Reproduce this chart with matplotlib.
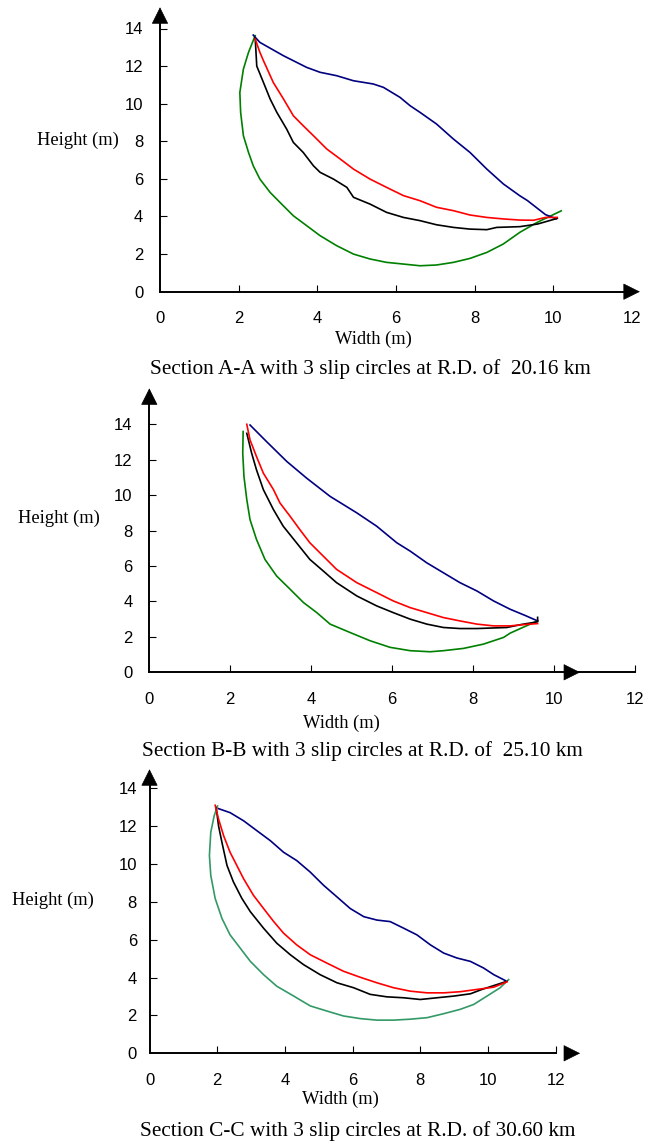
import matplotlib
matplotlib.use('Agg')
import matplotlib.pyplot as plt

# Section A-A
a_blue_x = [2.37, 2.54, 3.14, 3.73, 4.07, 4.49, 4.92, 5.42, 5.68, 6.10, 6.36, 6.61, 7.03, 7.46, 7.88, 8.31, 8.73, 9.15, 9.34, 9.80, 10.07]
a_blue_y = [13.65, 13.26, 12.55, 11.93, 11.67, 11.49, 11.22, 11.05, 10.87, 10.34, 9.89, 9.54, 8.92, 8.12, 7.41, 6.52, 5.73, 5.10, 4.85, 4.10, 3.88]
a_red_x = [2.42, 2.54, 2.63, 2.88, 3.14, 3.39, 3.64, 3.90, 4.24, 4.58, 4.92, 5.34, 5.76, 6.19, 6.61, 7.03, 7.46, 7.88, 8.31, 8.73, 9.15, 9.50, 9.80, 10.10]
a_red_y = [13.44, 12.73, 12.29, 11.13, 10.25, 9.36, 8.83, 8.30, 7.59, 7.06, 6.52, 5.99, 5.55, 5.11, 4.84, 4.49, 4.31, 4.08, 3.95, 3.87, 3.81, 3.80, 3.95, 3.95]
a_black_x = [2.42, 2.46, 2.63, 2.80, 2.97, 3.22, 3.39, 3.64, 3.90, 4.07, 4.41, 4.75, 4.92, 5.34, 5.76, 6.19, 6.61, 7.03, 7.46, 7.88, 8.31, 8.56, 9.15, 9.60, 10.10]
a_black_y = [13.50, 12.00, 11.13, 10.25, 9.54, 8.65, 7.94, 7.41, 6.70, 6.35, 5.99, 5.55, 5.02, 4.66, 4.22, 3.95, 3.78, 3.56, 3.42, 3.33, 3.30, 3.42, 3.46, 3.60, 3.90]
a_green_x = [2.42, 2.25, 2.12, 2.03, 2.05, 2.12, 2.25, 2.37, 2.54, 2.80, 3.05, 3.39, 3.73, 4.07, 4.49, 4.92, 5.34, 5.76, 6.19, 6.61, 7.03, 7.46, 7.88, 8.31, 8.73, 9.15, 9.60, 10.20]
a_green_y = [13.62, 12.73, 11.84, 10.60, 9.54, 8.30, 7.41, 6.70, 5.99, 5.28, 4.75, 4.04, 3.51, 2.98, 2.45, 2.00, 1.74, 1.56, 1.47, 1.38, 1.42, 1.56, 1.77, 2.09, 2.54, 3.16, 3.70, 4.30]

# Section B-B
b_blue_x = [2.49, 2.90, 3.40, 3.89, 4.47, 5.13, 5.62, 6.12, 6.45, 6.86, 7.27, 7.68, 8.10, 8.51, 8.92, 9.30, 9.60]
b_blue_y = [13.96, 13.02, 11.90, 10.96, 9.93, 9.00, 8.25, 7.31, 6.84, 6.18, 5.62, 5.06, 4.59, 4.03, 3.56, 3.20, 2.90]
b_red_x = [2.41, 2.49, 2.65, 2.82, 3.07, 3.23, 3.48, 3.72, 3.97, 4.30, 4.63, 5.13, 5.62, 6.03, 6.45, 6.86, 7.27, 7.68, 8.10, 8.51, 8.92, 9.30, 9.60]
b_red_y = [14.00, 13.12, 12.18, 11.24, 10.31, 9.56, 8.81, 8.06, 7.31, 6.56, 5.81, 5.06, 4.50, 4.03, 3.65, 3.37, 3.09, 2.90, 2.72, 2.62, 2.62, 2.70, 2.75]
b_black_x = [2.41, 2.53, 2.65, 2.82, 3.07, 3.31, 3.64, 3.97, 4.30, 4.63, 5.13, 5.62, 6.03, 6.45, 6.86, 7.27, 7.68, 8.10, 8.84, 9.20, 9.60, 9.60]
b_black_y = [13.49, 12.37, 11.43, 10.31, 9.18, 8.25, 7.31, 6.37, 5.72, 5.06, 4.31, 3.75, 3.37, 3.00, 2.72, 2.53, 2.47, 2.47, 2.53, 2.70, 2.85, 3.10]
b_green_x = [2.32, 2.31, 2.34, 2.41, 2.49, 2.65, 2.86, 3.15, 3.48, 3.81, 4.14, 4.47, 4.96, 5.46, 5.95, 6.45, 6.94, 7.27, 7.77, 8.26, 8.76, 8.92, 9.30, 9.60]
b_green_y = [13.59, 12.37, 11.06, 9.75, 8.62, 7.50, 6.37, 5.43, 4.69, 3.94, 3.37, 2.72, 2.25, 1.78, 1.41, 1.22, 1.16, 1.22, 1.35, 1.59, 1.97, 2.21, 2.60, 2.90]

# Section C-C
c_blue_x = [2.04, 2.38, 2.78, 3.17, 3.57, 3.96, 4.35, 4.75, 5.14, 5.54, 5.93, 6.33, 6.72, 7.11, 7.51, 7.90, 8.30, 8.69, 9.08, 9.48, 9.87, 10.17, 10.51]
c_blue_y = [12.91, 12.70, 12.27, 11.75, 11.22, 10.61, 10.17, 9.56, 8.87, 8.25, 7.64, 7.21, 7.03, 6.95, 6.60, 6.25, 5.72, 5.29, 5.03, 4.85, 4.50, 4.15, 3.84]
c_red_x = [1.94, 2.04, 2.19, 2.38, 2.58, 2.78, 3.07, 3.37, 3.67, 3.96, 4.35, 4.75, 5.24, 5.73, 6.23, 6.72, 7.21, 7.70, 8.20, 8.69, 9.18, 9.67, 10.17, 10.56]
c_red_y = [13.09, 12.36, 11.48, 10.61, 9.91, 9.21, 8.34, 7.64, 6.95, 6.34, 5.72, 5.20, 4.76, 4.33, 4.01, 3.72, 3.46, 3.28, 3.19, 3.19, 3.25, 3.37, 3.49, 3.77]
c_black_x = [1.97, 2.04, 2.14, 2.29, 2.48, 2.73, 2.98, 3.37, 3.76, 4.16, 4.55, 5.04, 5.54, 6.03, 6.52, 7.01, 7.51, 8.00, 8.49, 8.99, 9.48, 9.82, 10.56]
c_black_y = [12.97, 12.00, 11.13, 9.91, 9.04, 8.17, 7.47, 6.60, 5.81, 5.20, 4.68, 4.15, 3.72, 3.46, 3.11, 2.98, 2.93, 2.84, 2.93, 3.02, 3.14, 3.37, 3.80]
c_green_x = [2.01, 1.91, 1.81, 1.77, 1.81, 1.94, 2.14, 2.38, 2.68, 2.98, 3.37, 3.76, 4.26, 4.75, 5.24, 5.73, 6.23, 6.72, 7.21, 7.70, 8.20, 8.69, 9.18, 9.58, 9.97, 10.36, 10.61]
c_green_y = [13.05, 12.53, 11.66, 10.44, 9.39, 8.17, 7.12, 6.25, 5.55, 4.85, 4.15, 3.54, 3.02, 2.50, 2.23, 1.97, 1.83, 1.75, 1.75, 1.80, 1.88, 2.09, 2.32, 2.58, 3.02, 3.46, 3.89]

titles = ['Section A-A with 3 slip circles at R.D. of  20.16 km',
          'Section B-B with 3 slip circles at R.D. of  25.10 km',
          'Section C-C with 3 slip circles at R.D. of 30.60 km']
x_ticks = [0, 2, 4, 6, 8, 10, 12]
y_ticks = [0, 2, 4, 6, 8, 10, 12, 14]

W, H = 647, 1143
fig = plt.figure(figsize=(W / 100, H / 100), dpi=100)

sans = 'Liberation Sans'
serif = 'Liberation Serif'

# pixel layout of each panel: left, right, y of zero line, y of 14
panels = [
    dict(box=(160, 632, 291.7, 28.5), curves=(a_blue_x, a_blue_y, a_red_x, a_red_y, a_black_x, a_black_y, a_green_x, a_green_y),
         green='#008000', ytip=15.13, xarrow=(11.8, 12.2), hide12=True,
         hlabel=(37, 140), wlabel=(373, 339), title=(370, 369)),
    dict(box=(149.3, 634.7, 672.3, 424.3), curves=(b_blue_x, b_blue_y, b_red_x, b_red_y, b_black_x, b_black_y, b_green_x, b_green_y),
         green='#008000', ytip=16.03, xarrow=(10.28, 10.65), hide12=False,
         hlabel=(18, 518), wlabel=(341, 723), title=(362, 751)),
    dict(box=(149.5, 555.7, 1053.3, 788.0), curves=(c_blue_x, c_blue_y, c_red_x, c_red_y, c_black_x, c_black_y, c_green_x, c_green_y),
         green='#339966', ytip=14.99, xarrow=(12.3, 12.72), hide12=False,
         hlabel=(12, 900), wlabel=(340, 1099), title=(358, 1131)),
]

for i, p in enumerate(panels):
    l, r, y0, y14 = p['box']
    ax = fig.add_axes([l / W, 1 - y0 / H, (r - l) / W, (y0 - y14) / H])
    ax.set_xlim(0, 12)
    ax.set_ylim(0, 14)
    for s in ax.spines.values():
        s.set_visible(False)

    bx, by, rx, ry, kx, ky, gx, gy = p['curves']
    ax.plot(gx, gy, color=p['green'], lw=1.2, clip_on=False)
    ax.plot(bx, by, color='#000080', lw=1.2, clip_on=False)
    ax.plot(kx, ky, color='black', lw=1.2, clip_on=False)
    ax.plot(rx, ry, color='red', lw=1.2, clip_on=False)

    # axis lines with arrow heads
    ax.plot([0, 12], [0, 0], color='black', lw=1.4, clip_on=False)
    ax.plot([0, 0], [0, p['ytip'] - 0.5], color='black', lw=1.4, clip_on=False)
    ax.annotate('', xy=(p['xarrow'][1], 0), xytext=(p['xarrow'][0], 0),
                arrowprops=dict(arrowstyle='-|>,head_length=1.0,head_width=0.5', mutation_scale=11,
                                color='black', lw=0.5, shrinkA=0, shrinkB=0),
                annotation_clip=False)
    ax.annotate('', xy=(0, p['ytip']), xytext=(0, p['ytip'] - 0.75),
                arrowprops=dict(arrowstyle='-|>,head_length=1.0,head_width=0.5', mutation_scale=11,
                                color='black', lw=0.5, shrinkA=0, shrinkB=0),
                annotation_clip=False)

    ax.set_xticks(x_ticks)
    ax.set_yticks(y_ticks)
    ax.set_xticklabels([str(t) for t in x_ticks], fontfamily=sans, fontsize=12)
    ax.set_yticklabels([str(t) for t in y_ticks], fontfamily=sans, fontsize=12)
    ax.tick_params(direction='in', length=5, width=0.8, color='black')
    ax.tick_params(axis='x', pad=14)
    ax.tick_params(axis='y', pad=12 if i < 2 else 9)
    ax.xaxis.get_major_ticks()[0].tick1line.set_visible(False)
    ax.yaxis.get_major_ticks()[0].tick1line.set_visible(False)
    if p['hide12']:
        ax.xaxis.get_major_ticks()[-1].tick1line.set_visible(False)

    fig.text(p['hlabel'][0] / W, 1 - p['hlabel'][1] / H, 'Height (m)', fontfamily=serif,
             fontsize=13.3, ha='left', va='center')
    fig.text(p['wlabel'][0] / W, 1 - p['wlabel'][1] / H, 'Width (m)', fontfamily=serif,
             fontsize=13.3, ha='center', va='center')
    fig.text(p['title'][0] / W, 1 - p['title'][1] / H, titles[i], fontfamily=serif,
             fontsize=15.3, ha='center', va='center')

fig.savefig('out.png', dpi=100)
